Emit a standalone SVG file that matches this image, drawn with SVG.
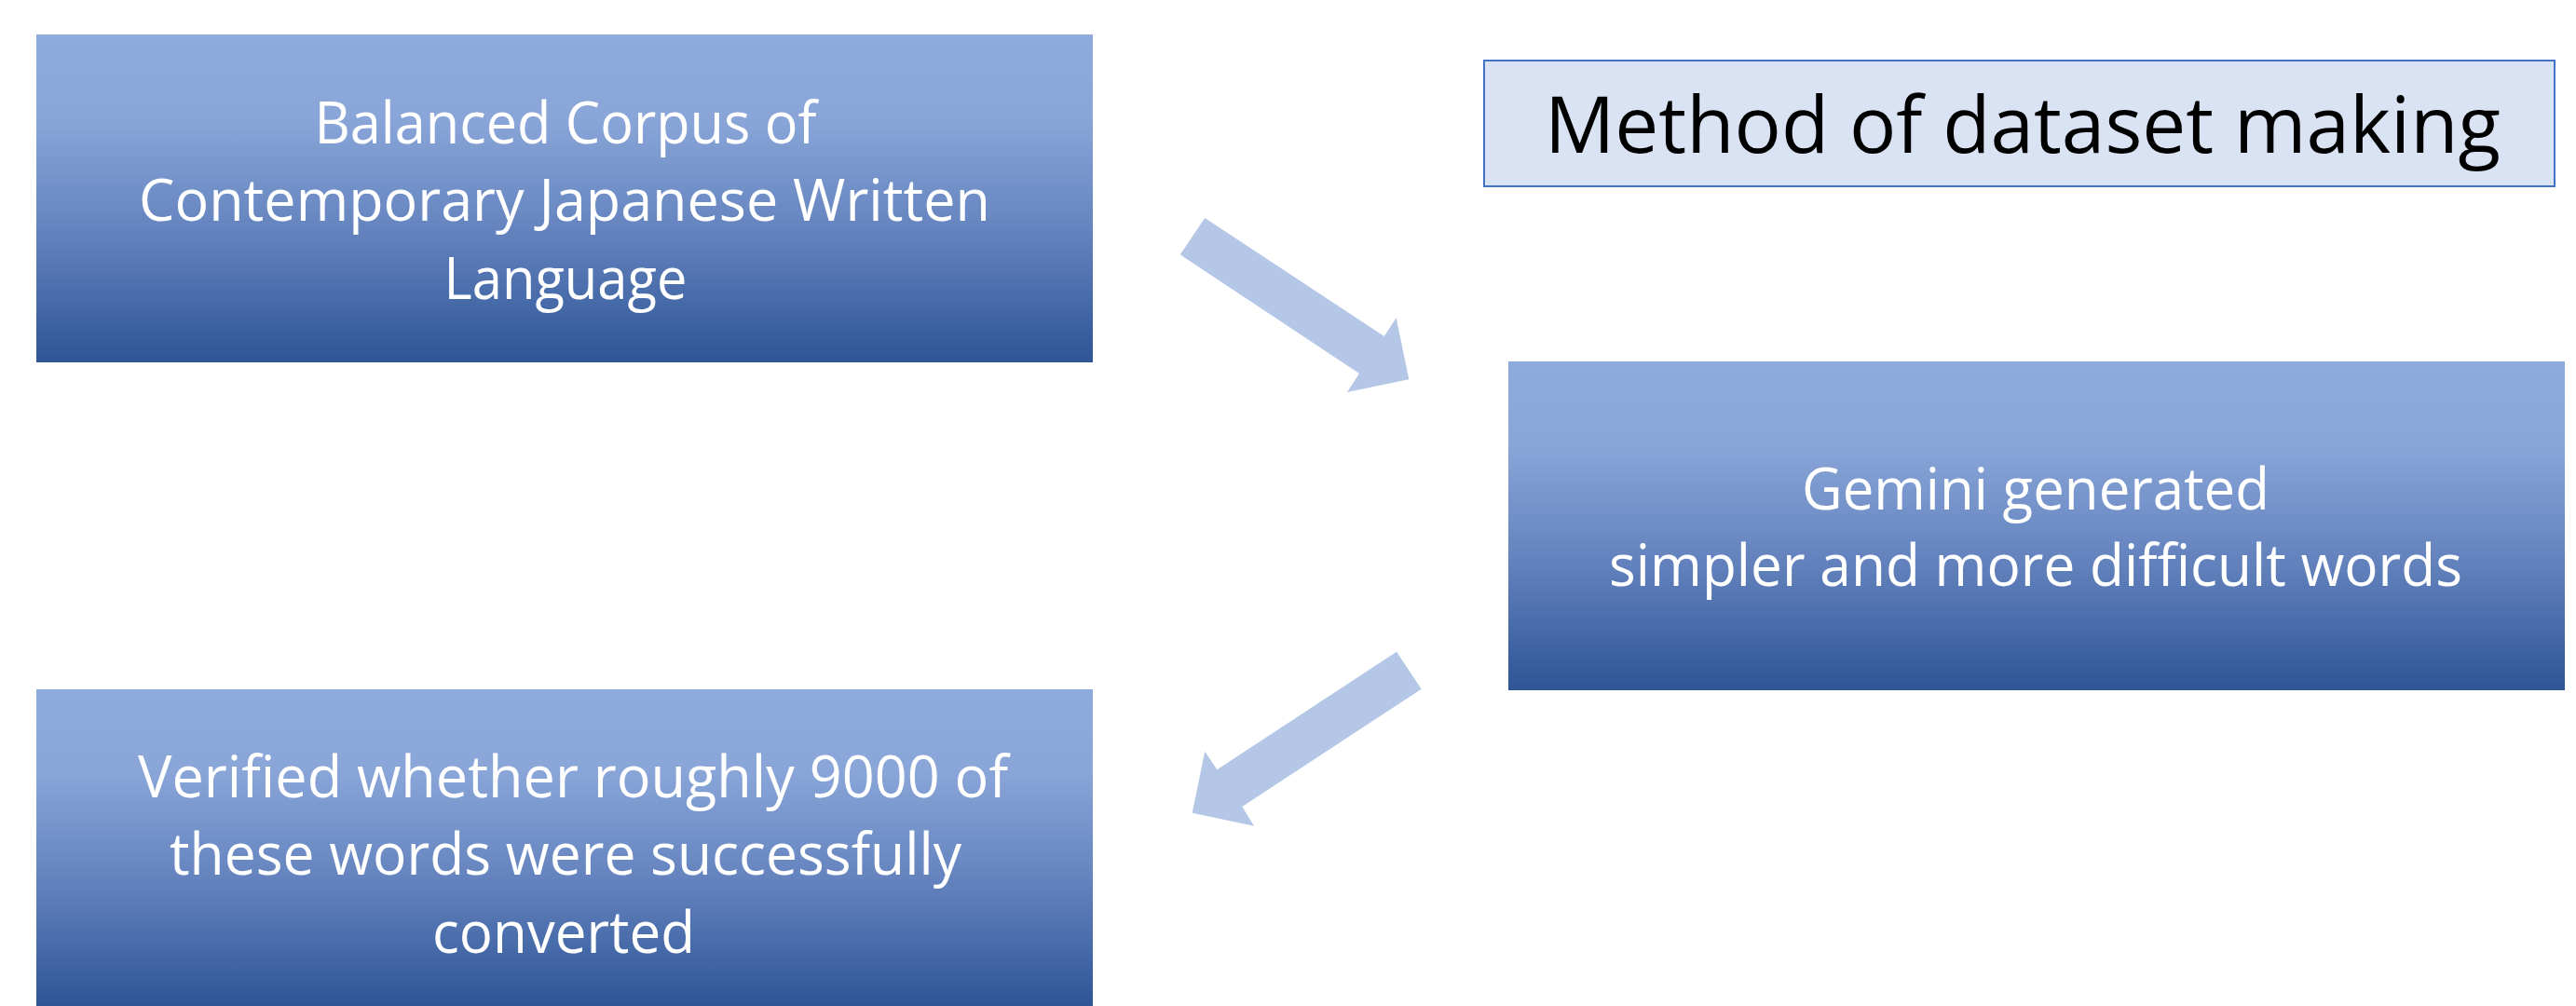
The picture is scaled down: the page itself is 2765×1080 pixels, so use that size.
<svg xmlns="http://www.w3.org/2000/svg" width="2765" height="1080" viewBox="0 0 2765 1080">
<defs>
<linearGradient id="boxGrad" x1="0" y1="0" x2="0" y2="1">
<stop offset="0" stop-color="#8FAADC"/>
<stop offset="0.25" stop-color="#8AA6D9"/>
<stop offset="0.6" stop-color="#6483BE"/>
<stop offset="1" stop-color="#2E5596"/>
</linearGradient>
<style>
.box{fill:url(#boxGrad);}
.lbl{font-family:"Open Sans","Noto Sans","Liberation Sans",sans-serif;font-size:62px;fill:#FFFFFF;text-anchor:middle;}
.title{font-family:"Open Sans","Noto Sans","Liberation Sans",sans-serif;font-size:85px;fill:#000000;text-anchor:middle;}
.arrow{fill:#B4C7E7;}
</style>
</defs>
<rect width="2765" height="1080" fill="#FFFFFF"/>
<g id="node-corpus">
<rect class="box" x="39" y="37" width="1134" height="352"/>
<text class="lbl" x="607" y="154" textLength="539" lengthAdjust="spacingAndGlyphs">Balanced Corpus of</text>
<text class="lbl" x="606" y="237" textLength="914" lengthAdjust="spacingAndGlyphs">Contemporary Japanese Written</text>
<text class="lbl" x="607" y="321" textLength="261" lengthAdjust="spacingAndGlyphs">Language</text>
</g>
<g id="node-title">
<rect x="1593" y="65" width="1149" height="135" fill="#DAE3F3" stroke="#4472C4" stroke-width="2"/>
<text class="title" x="2171" y="164" textLength="1026" lengthAdjust="spacingAndGlyphs">Method of dataset making</text>
</g>
<g id="node-gemini">
<rect class="box" x="1619" y="388" width="1134" height="353"/>
<text class="lbl" x="2185" y="547" textLength="502" lengthAdjust="spacingAndGlyphs">Gemini generated</text>
<text class="lbl" x="2185" y="629" textLength="916" lengthAdjust="spacingAndGlyphs">simpler and more difficult words</text>
</g>
<g id="node-verified">
<rect class="box" x="39" y="740" width="1134" height="340"/>
<text class="lbl" x="615" y="856" textLength="934" lengthAdjust="spacingAndGlyphs">Verified whether roughly 9000 of</text>
<text class="lbl" x="607" y="939" textLength="850" lengthAdjust="spacingAndGlyphs">these words were successfully</text>
<text class="lbl" x="605" y="1023" textLength="282" lengthAdjust="spacingAndGlyphs">converted</text>
</g>
<g id="connectors">
<polygon class="arrow" points="1293.3,234 1485.7,361 1498.7,341.3 1512.3,407.3 1446,421 1459,401 1266.7,273.3"/>
<polygon class="arrow" points="1499,699.7 1525.7,739.7 1333.3,866 1346,886.7 1279.7,872.7 1293.3,806.7 1306.3,826.3"/>
</g>
</svg>
